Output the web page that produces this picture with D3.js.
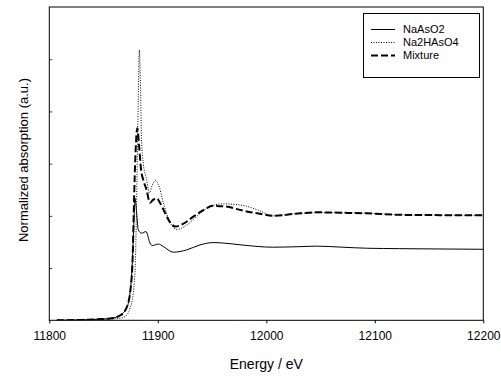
<!DOCTYPE html>
<html>
<head>
<meta charset="utf-8">
<script src="https://cdn.jsdelivr.net/npm/d3@7"></script>
<style>
  html, body { margin: 0; padding: 0; background: #fff; }
  svg { display: block; }
</style>
</head>
<body>
<div id="chart"></div>
<script>
// energy (eV), normalized absorption (a.u.)
const naAsO2 = [
  [11807, 0], [11830, 0.004], [11845, 0.01], [11856, 0.017], [11865.2, 0.05],
  [11871.3, 0.12], [11874.4, 0.26], [11876.5, 0.55], [11878.3, 1.03], [11879, 1.17],
  [11880.3, 1.05], [11882, 0.866], [11885.2, 0.834], [11889.1, 0.85], [11892.8, 0.74],
  [11894.9, 0.715], [11900.5, 0.73], [11905.1, 0.706], [11914.3, 0.652], [11926.6, 0.674],
  [11938.9, 0.722], [11951, 0.744], [11960, 0.74], [11978.5, 0.72], [12006, 0.70],
  [12030, 0.705], [12047, 0.71], [12070, 0.70], [12093, 0.69], [12123, 0.686],
  [12160, 0.683], [12200, 0.68]
];
const na2HAsO4 = [
  [11807, 0], [11830, 0.003], [11845, 0.008], [11856, 0.012], [11865.2, 0.02],
  [11869.8, 0.035], [11874.4, 0.115], [11877.4, 0.26], [11879.4, 0.58], [11880.8, 1.345],
  [11882, 2.11], [11883, 2.59], [11884.1, 2.21], [11885, 1.73], [11886.8, 1.49],
  [11889.8, 1.345], [11892.2, 1.22], [11894.7, 1.29], [11897.9, 1.34], [11900.6, 1.30],
  [11905.1, 1.125], [11911.2, 0.94], [11917.7, 0.87], [11925.1, 0.90], [11934.3, 0.98],
  [11943.5, 1.06], [11952.7, 1.105], [11960.1, 1.115], [11978.5, 1.10], [11994.2, 1.048],
  [12006.2, 1.00], [12026.5, 1.02], [12046.7, 1.03], [12067.9, 1.03], [12092.8, 1.026],
  [12123.2, 1.01], [12160, 1.007], [12200, 1.005]
];
const mixture = [
  [11807, 0], [11830, 0.004], [11845, 0.01], [11856, 0.017], [11865.2, 0.046],
  [11871.3, 0.123], [11874.4, 0.26], [11876.7, 0.56], [11878.1, 1.15], [11879.4, 1.585],
  [11881.1, 1.84], [11882.7, 1.68], [11884.6, 1.44], [11886.6, 1.345], [11889.6, 1.25],
  [11892.8, 1.125], [11895.6, 1.153], [11899, 1.168], [11902, 1.125], [11906.6, 1.03],
  [11911.2, 0.94], [11916.3, 0.897], [11923.2, 0.923], [11932.4, 0.99], [11941.7, 1.053],
  [11950.9, 1.096], [11962, 1.09], [11978.5, 1.05], [11994.2, 1.02], [12006.2, 1.00],
  [12026.5, 1.02], [12046.7, 1.034], [12067.9, 1.03], [12092.8, 1.024], [12123.2, 1.01],
  [12160, 1.007], [12200, 1.005]
];
const seriesNames = ["NaAsO2", "Na2HAsO4", "Mixture"];
const xTicks = [11800, 11900, 12000, 12100, 12200];
const yTicks = [0.5, 1, 1.5, 2, 2.5];

const width = 501;
const height = 376;
const margin = { top: 7, right: 17.7, bottom: 55.7, left: 49.3 };
const fontFamily = "Arial, 'Liberation Sans', sans-serif";

const styles = [
  { width: 1, dash: null },
  { width: 1, dash: "1,1.5" },
  { width: 2, dash: "7,3" }
];

const svg = d3.select("#chart")
  .append("svg")
  .attr("width", width)
  .attr("height", height)
  .style("font-family", fontFamily);

const x = d3.scaleLinear()
  .domain([11800, 12200])
  .range([margin.left, width - margin.right]);

const y = d3.scaleLinear()
  .domain([0, 3])
  .range([height - margin.bottom, margin.top]);

svg.append("clipPath")
  .attr("id", "plot-clip")
  .append("rect")
  .attr("x", x.range()[0])
  .attr("y", y.range()[1])
  .attr("width", x.range()[1] - x.range()[0])
  .attr("height", y.range()[0] - y.range()[1]);

// Lines
const line = d3.line()
  .x(d => x(d[0]))
  .y(d => y(d[1]))
  .curve(d3.curveMonotoneX);

svg.append("g")
  .attr("clip-path", "url(#plot-clip)")
  .attr("fill", "none")
  .attr("stroke", "#000")
  .selectAll("path")
  .data([naAsO2, na2HAsO4, mixture])
  .join("path")
  .attr("d", line)
  .attr("stroke-width", (d, i) => styles[i].width)
  .attr("stroke-dasharray", (d, i) => styles[i].dash);

// Axes
const xAxis = svg.append("g")
  .attr("transform", `translate(0,${y.range()[0]})`)
  .call(d3.axisBottom(x).tickValues(xTicks).tickSize(3).tickSizeOuter(0).tickPadding(8).tickFormat(d3.format("d")));
xAxis.selectAll("text").attr("font-size", 12).attr("font-family", fontFamily).attr("fill", "#000");
xAxis.select(".domain").remove();

const yAxis = svg.append("g")
  .attr("transform", `translate(${x.range()[0]},0)`)
  .call(d3.axisLeft(y).tickValues(yTicks).tickSize(-3).tickSizeOuter(0).tickFormat(""));
yAxis.select(".domain").remove();
yAxis.selectAll("line").attr("stroke", "#444");

// Frame
svg.append("rect")
  .attr("x", x.range()[0])
  .attr("y", y.range()[1])
  .attr("width", x.range()[1] - x.range()[0])
  .attr("height", y.range()[0] - y.range()[1])
  .attr("fill", "none")
  .attr("stroke", "#000")
  .attr("stroke-width", 1);

// Axis titles
svg.append("text")
  .attr("x", (x.range()[0] + x.range()[1]) / 2)
  .attr("y", 369)
  .attr("text-anchor", "middle")
  .attr("font-size", 14)
  .text("Energy / eV");

svg.append("text")
  .attr("transform", "translate(28,160) rotate(-90)")
  .attr("text-anchor", "middle")
  .attr("font-size", 13)
  .text("Normalized absorption (a.u.)");

// Legend
const legend = svg.append("g");
legend.append("rect")
  .attr("x", 363.5)
  .attr("y", 13.5)
  .attr("width", 116)
  .attr("height", 64)
  .attr("fill", "#fff")
  .attr("stroke", "#000");

const rows = legend.selectAll("g.row")
  .data(seriesNames)
  .join("g")
  .attr("class", "row")
  .attr("transform", (d, i) => `translate(0,${29.5 + i * 13})`);

rows.append("line")
  .attr("x1", 371)
  .attr("x2", 395)
  .attr("stroke", "#000")
  .attr("stroke-width", (d, i) => styles[i].width)
  .attr("stroke-dasharray", (d, i) => styles[i].dash);

rows.append("text")
  .attr("x", 403)
  .attr("dy", "0.35em")
  .attr("font-size", 11)
  .text(d => d);
</script>
</body>
</html>
